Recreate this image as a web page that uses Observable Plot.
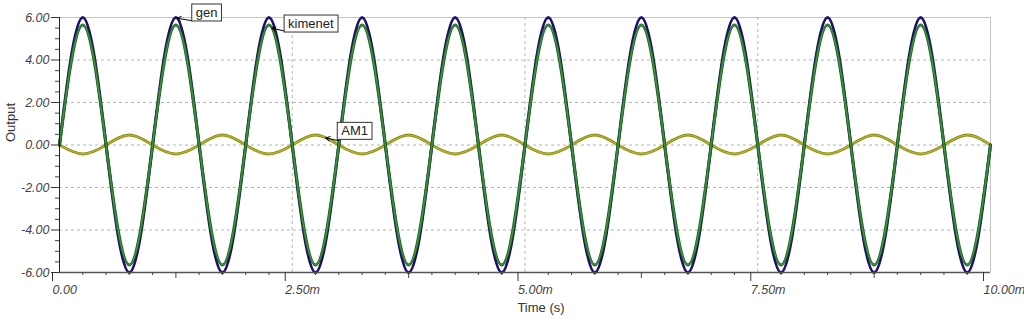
<!DOCTYPE html>
<html>
<head>
<meta charset="utf-8">
<script src="https://cdn.jsdelivr.net/npm/d3@7"></script>
<script src="https://cdn.jsdelivr.net/npm/@observablehq/plot@0.6"></script>
<style>
  html, body { margin: 0; padding: 0; background: #fff; }
  #chart svg { font-family: "Liberation Sans", Arial, sans-serif; }
</style>
</head>
<body>
<div id="chart"></div>
<script>
const time = [0,0.25,0.5,0.75,1,1.25,1.5,1.75,2,2.25,2.5,2.75,3,3.25,3.5,3.75,4,4.25,4.5,4.75,5,5.25,5.5,5.75,6,6.25,6.5,6.75,7,7.25,7.5,7.75,8,8.25,8.5,8.75,9,9.25,9.5,9.75,10];
const gen = [0,6,0,-6, 0,6,0,-6, 0,6,0,-6, 0,6,0,-6, 0,6,0,-6, 0,6,0,-6, 0,6,0,-6, 0,6,0,-6, 0,6,0,-6, 0,6,0,-6, 0];
const kimenet = [0,5.65,0,-5.65, 0,5.65,0,-5.65, 0,5.65,0,-5.65, 0,5.65,0,-5.65, 0,5.65,0,-5.65, 0,5.65,0,-5.65, 0,5.65,0,-5.65, 0,5.65,0,-5.65, 0,5.65,0,-5.65, 0,5.65,0,-5.65, 0];
const am1 = [0,-0.42,0,0.47, 0,-0.42,0,0.47, 0,-0.42,0,0.47, 0,-0.42,0,0.47, 0,-0.42,0,0.47, 0,-0.42,0,0.47, 0,-0.42,0,0.47, 0,-0.42,0,0.47, 0,-0.42,0,0.47, 0,-0.42,0,0.47, 0];

const xMajor = [0, 2.5, 5, 7.5, 10];
const xMedium = [1.25, 3.75, 6.25, 8.75];
const xMinor = [0.25,0.5,0.75,1,1.5,1.75,2,2.25,2.75,3,3.25,3.5,4,4.25,4.5,4.75,5.25,5.5,5.75,6,6.5,6.75,7,7.25,7.75,8,8.25,8.5,9,9.25,9.5,9.75];
const yMajor = [-6, -4, -2, 0, 2, 4, 6];
const yMinor = [-5.5,-5,-4.5,-3.5,-3,-2.5,-1.5,-1,-0.5,0.5,1,1.5,2.5,3,3.5,4.5,5,5.5];
const gridX = [2.5, 5, 7.5];
const gridY = [-4, -2, 0, 2, 4];

// callouts: label text position and arrow (from box to curve point)
const calloutLabels = ["gen", "kimenet", "AM1"];
const calloutTextX = [1.58, 2.70, 3.17];
const calloutTextY = [6.22, 5.70, 0.65];
const arrowFromX = [1.42, 2.41, 3.0];
const arrowFromY = [5.85, 5.37, 0.2];
const arrowToX = [1.26, 2.28, 2.86];
const arrowToY = [5.97, 5.5, 0.33];

const rows = time.map((t, i) => ({t, gen: gen[i], kimenet: kimenet[i], am1: am1[i]}));
const callouts = calloutLabels.map((label, i) => ({
  label, tx: calloutTextX[i], ty: calloutTextY[i],
  x1: arrowFromX[i], y1: arrowFromY[i], x2: arrowToX[i], y2: arrowToY[i]
}));

const fmtX = d => d === 0 ? "0.00" : d.toFixed(2) + "m";
const fmtY = d => d.toFixed(2);

const chart = Plot.plot({
  width: 1024,
  height: 327,
  marginLeft: 59,
  marginRight: 34,
  marginTop: 17,
  marginBottom: 55,
  style: {fontSize: "13px", fontFamily: "'Liberation Sans', Arial, sans-serif", background: "#fff"},
  x: {domain: [0, 10]},
  y: {domain: [-6, 6]},
  marks: [
    Plot.ruleY(gridY, {stroke: "#b4b4b4", strokeDasharray: "3,3", strokeWidth: 1}),
    Plot.ruleX(gridX, {stroke: "#b4b4b4", strokeDasharray: "3,3", strokeWidth: 1}),
    Plot.ruleY([6], {stroke: "#c4c4c4", strokeWidth: 1}),
    Plot.ruleX([10], {stroke: "#c4c4c4", strokeWidth: 1}),
    // AM1
    Plot.line(rows, {x: "t", y: "am1", curve: "natural", stroke: "#8f8f17", strokeWidth: 3}),
    Plot.line(rows, {x: "t", y: "am1", curve: "natural", stroke: "#b5b53a", strokeWidth: 1.2}),
    // gen
    Plot.line(rows, {x: "t", y: "gen", curve: "natural", stroke: "#1d0f6b", strokeWidth: 3}),
    // kimenet
    Plot.line(rows, {x: "t", y: "kimenet", curve: "natural", stroke: "#1f5f22", strokeWidth: 3}),
    Plot.line(rows, {x: "t", y: "kimenet", curve: "natural", stroke: "#3a9a3c", strokeWidth: 1.3}),
    // axes
    Plot.ruleX([0], {stroke: "#222", strokeWidth: 1}),
    Plot.ruleY([-6], {stroke: "#555", strokeWidth: 1.5}),
    Plot.axisX({ticks: xMajor, tickSize: 9, tickPadding: 4, tickFormat: fmtX, textAnchor: "start", dx: -7, fontStyle: "italic", fontSize: 12.5, color: "#444", stroke: "#333", label: null}),
    Plot.axisX({ticks: xMedium, tickSize: 6, tickFormat: () => "", label: null, stroke: "#444"}),
    Plot.axisX({ticks: xMinor, tickSize: 3, tickFormat: () => "", label: null, stroke: "#444"}),
    Plot.axisY({ticks: yMajor, tickSize: 8, tickPadding: 2, tickFormat: fmtY, fontStyle: "italic", fontSize: 12.5, color: "#444", stroke: "#333", label: null}),
    Plot.axisY({ticks: yMinor, tickSize: 4, tickFormat: () => "", label: null, stroke: "#444"}),
    Plot.text(["Time (s)"], {frameAnchor: "bottom", dy: 39, dx: 16, fill: "#333", fontSize: 13}),
    Plot.text(["Output"], {frameAnchor: "left", rotate: -90, dx: -49, dy: -3, fill: "#333", fontSize: 13}),
    // callouts
    Plot.arrow(callouts, {x1: "x1", y1: "y1", x2: "x2", y2: "y2", stroke: "#000", strokeWidth: 1, headLength: 7, bend: 0}),
    Plot.text(callouts, {x: "tx", y: "ty", text: "label", fill: "#222", fontSize: 13})
  ]
});

document.getElementById("chart").appendChild(chart);

// draw boxes around callout labels
chart.querySelectorAll("text").forEach(t => {
  if (!calloutLabels.includes(t.textContent)) return;
  const b = t.getBBox();
  const r = document.createElementNS("http://www.w3.org/2000/svg", "rect");
  r.setAttribute("x", b.x - 4);
  r.setAttribute("y", b.y - 1);
  r.setAttribute("width", b.width + 8);
  r.setAttribute("height", b.height + 2);
  r.setAttribute("fill", "#fff");
  r.setAttribute("stroke", "#333");
  r.setAttribute("stroke-width", 1);
  const tr = t.getAttribute("transform");
  if (tr) r.setAttribute("transform", tr);
  t.parentNode.insertBefore(r, t);
});
</script>
</body>
</html>
